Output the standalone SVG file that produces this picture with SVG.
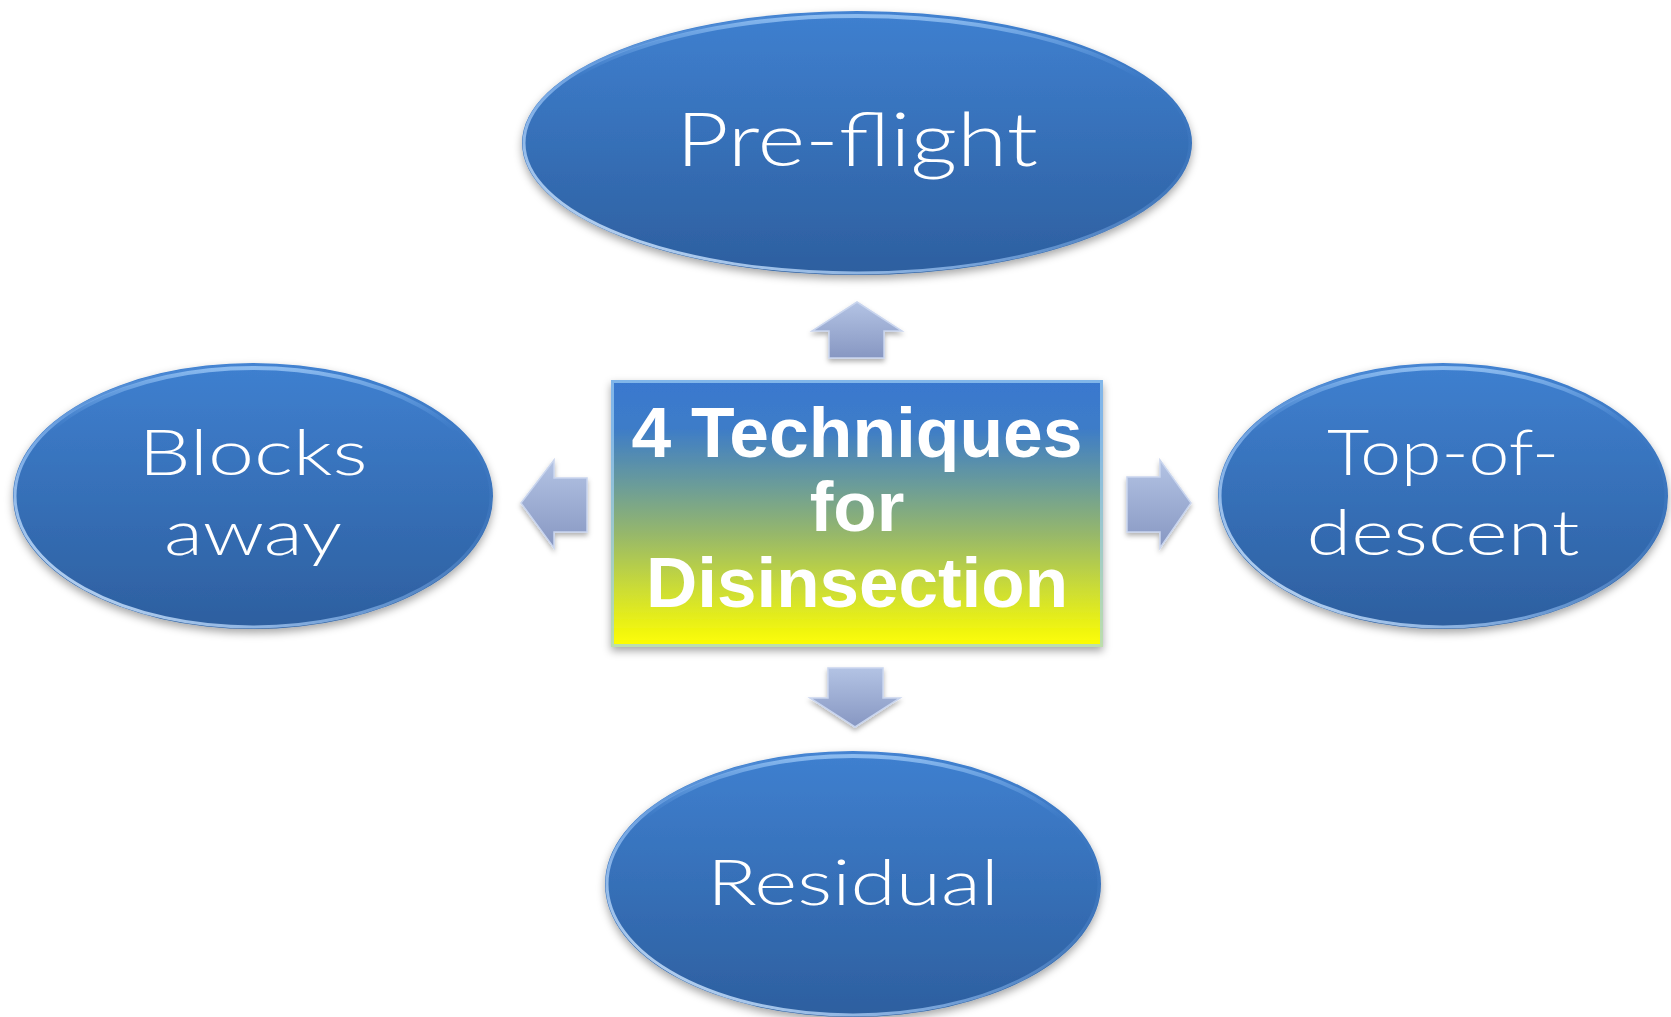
<svg xmlns="http://www.w3.org/2000/svg" width="1671" height="1017" viewBox="0 0 1671 1017">
<defs>
<linearGradient id="gEll" x1="0" y1="0" x2="0" y2="1">
<stop offset="0" stop-color="#3f80d0"/>
<stop offset="1" stop-color="#2d5f9f"/>
</linearGradient>
<linearGradient id="gRim" x1="0" y1="1" x2="1" y2="0">
<stop offset="0" stop-color="#e6f3ff" stop-opacity="0.95"/>
<stop offset="0.35" stop-color="#a8d0ff" stop-opacity="0.6"/>
<stop offset="0.7" stop-color="#5f98de" stop-opacity="0.2"/>
<stop offset="1" stop-color="#3a72bb" stop-opacity="0"/>
</linearGradient>
<linearGradient id="gTop" x1="0" y1="0" x2="0" y2="1">
<stop offset="0" stop-color="#9fcaf7" stop-opacity="0.8"/>
<stop offset="0.25" stop-color="#6aa5ea" stop-opacity="0"/>
</linearGradient>
<linearGradient id="gBox" x1="0" y1="0" x2="0" y2="1">
<stop offset="0" stop-color="#3978cf"/>
<stop offset="0.18" stop-color="#3d7cc8"/>
<stop offset="0.4" stop-color="#6c9d98"/>
<stop offset="0.58" stop-color="#97b86a"/>
<stop offset="0.78" stop-color="#cbdc36"/>
<stop offset="1" stop-color="#ffff00"/>
</linearGradient>
<linearGradient id="gArrow" x1="0" y1="0" x2="0" y2="1">
<stop offset="0" stop-color="#b3c3e4"/>
<stop offset="1" stop-color="#8797c2"/>
</linearGradient>
<linearGradient id="gArrowH" x1="0" y1="0" x2="1" y2="0">
<stop offset="0" stop-color="#b3c3e4"/>
<stop offset="1" stop-color="#8797c2"/>
</linearGradient>
<filter id="shadow" x="-10%" y="-10%" width="120%" height="130%">
<feDropShadow dx="0" dy="4" stdDeviation="4" flood-color="#000" flood-opacity="0.35"/>
</filter>
<filter id="shadowS" x="-20%" y="-20%" width="140%" height="150%">
<feDropShadow dx="0" dy="3" stdDeviation="2.5" flood-color="#000" flood-opacity="0.3"/>
</filter>
<style>
.ell{fill:url(#gEll);filter:url(#shadow);}
.rim{fill:none;stroke:url(#gRim);stroke-width:3;}
.top{fill:none;stroke:url(#gTop);stroke-width:4;}
.lbl{font-family:Lato,"Open Sans","Liberation Sans",sans-serif;font-weight:300;fill:#ffffff;text-anchor:middle;}
.ctr{font-family:"Liberation Sans",Arial,sans-serif;font-weight:bold;fill:#ffffff;text-anchor:middle;font-size:71px;}
.arr{fill:url(#gArrow);stroke:#c9d5ee;stroke-width:1.5;stroke-linejoin:miter;filter:url(#shadowS);}
.arrh{fill:url(#gArrowH);stroke:#c9d5ee;stroke-width:1.5;filter:url(#shadowS);}
</style>
</defs>
<rect width="1671" height="1017" fill="#ffffff"/>

<g id="connectors">
<path class="arr" d="M857,302 L902,331 L884,331 L884,358 L829,358 L829,331 L812,331 Z"/>
<path class="arr" d="M828,668 L883,668 L883,698 L900,698 L855,727 L810,698 L828,698 Z"/>
<path class="arr" d="M521,503 L554,460 L554,478 L587,478 L587,532 L554,532 L554,548 Z"/>
<path class="arr" d="M1127,477 L1160,477 L1160,460 L1191,503 L1160,548 L1160,532 L1127,532 Z"/>
</g>

<g id="center">
<rect x="611" y="380" width="492" height="267" fill="url(#gBox)" filter="url(#shadow)"/>
<rect x="612.5" y="381.5" width="489" height="264" fill="none" stroke="#9fd0f5" stroke-opacity="0.7" stroke-width="3"/>
<text class="ctr" x="857" y="457" textLength="451" lengthAdjust="spacingAndGlyphs">4 Techniques</text>
<text class="ctr" x="857" y="531">for</text>
<text class="ctr" x="857" y="607" textLength="422" lengthAdjust="spacingAndGlyphs">Disinsection</text>
</g>

<g id="preflight">
<ellipse class="ell" cx="857" cy="143" rx="335" ry="132"/>
<ellipse class="rim" cx="857" cy="143" rx="333" ry="130"/>
<ellipse class="top" cx="857" cy="143" rx="330" ry="127"/>
<text class="lbl" x="857" y="166" font-size="74" textLength="362" lengthAdjust="spacingAndGlyphs">Pre-flight</text>
</g>

<g id="blocks">
<ellipse class="ell" cx="253" cy="496" rx="240" ry="133"/>
<ellipse class="rim" cx="253" cy="496" rx="238" ry="131"/>
<ellipse class="top" cx="253" cy="496" rx="235" ry="128"/>
<text class="lbl" x="253" y="475" font-size="64" textLength="229" lengthAdjust="spacingAndGlyphs">Blocks</text>
<text class="lbl" x="253" y="555" font-size="64" textLength="178" lengthAdjust="spacingAndGlyphs">away</text>
</g>

<g id="topofdescent">
<ellipse class="ell" cx="1443" cy="496" rx="225" ry="133"/>
<ellipse class="rim" cx="1443" cy="496" rx="223" ry="131"/>
<ellipse class="top" cx="1443" cy="496" rx="220" ry="128"/>
<text class="lbl" x="1443" y="475" font-size="64" textLength="232" lengthAdjust="spacingAndGlyphs">Top-of-</text>
<text class="lbl" x="1443" y="555" font-size="64" textLength="273" lengthAdjust="spacingAndGlyphs">descent</text>
</g>

<g id="residual">
<ellipse class="ell" cx="853" cy="884" rx="248" ry="133"/>
<ellipse class="rim" cx="853" cy="884" rx="246" ry="131"/>
<ellipse class="top" cx="853" cy="884" rx="243" ry="128"/>
<text class="lbl" x="853" y="905" font-size="64" textLength="292" lengthAdjust="spacingAndGlyphs">Residual</text>
</g>
</svg>
